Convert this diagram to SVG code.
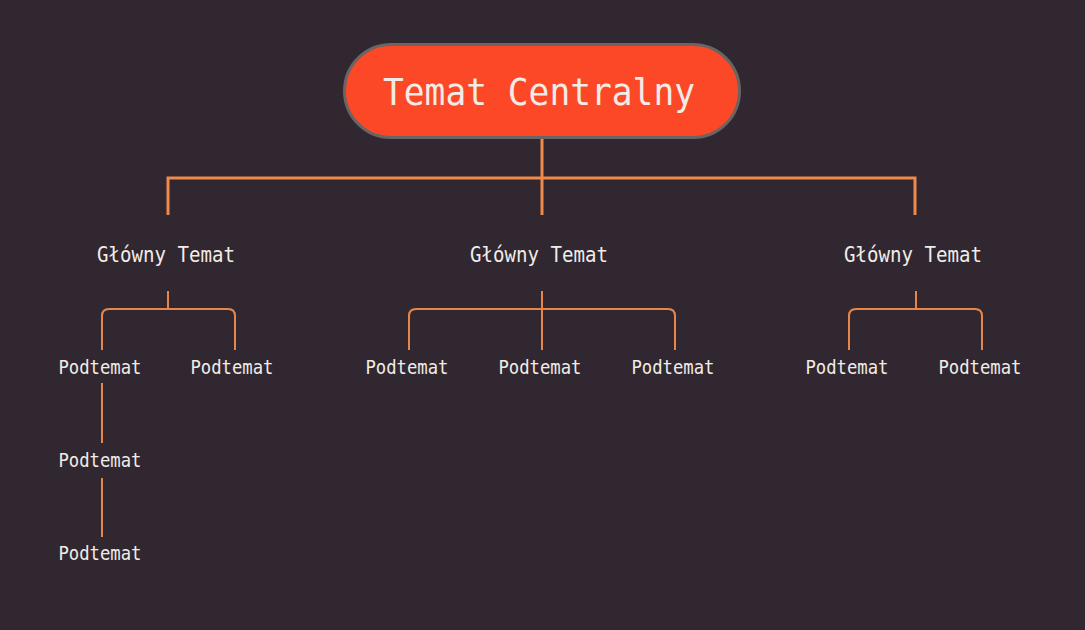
<svg xmlns="http://www.w3.org/2000/svg" width="1085" height="630" viewBox="0 0 1085 630">
<style>
.t{font-family:"DejaVu Sans Mono","Liberation Mono",monospace;fill:#F2ECE6;text-anchor:middle}
.main{font-size:21px}
.sub{font-size:19px}
.c1{fill:none;stroke:#EE8A4C;stroke-width:3}
.c2{fill:none;stroke:#E8864A;stroke-width:2}
</style>
<rect width="1085" height="630" fill="#302731"/>
<g id="connectors">
<path class="c1" d="M542 138V215M168 215V178H915V215"/>
<path class="c2" d="M168 291V309M102 350V316Q102 309 109 309H228Q235 309 235 316V350"/>
<path class="c2" d="M542 291V350M409 350V316Q409 309 416 309H668Q675 309 675 316V350"/>
<path class="c2" d="M916 291V309M849 350V316Q849 309 856 309H975Q982 309 982 316V350"/>
<path class="c2" d="M102 383V443M102 478V537"/>
</g>
<g id="center">
<rect x="344.5" y="44.5" width="395" height="93" rx="46.5" fill="#FC4826" stroke="#6A6464" stroke-width="3"/>
<text class="t" x="539" y="105" font-size="38" textLength="312" lengthAdjust="spacingAndGlyphs">Temat Centralny</text>
</g>
<g id="main1"><text class="t main" x="166" y="262" textLength="138" lengthAdjust="spacingAndGlyphs">Główny Temat</text></g>
<g id="main2"><text class="t main" x="539" y="262" textLength="138" lengthAdjust="spacingAndGlyphs">Główny Temat</text></g>
<g id="main3"><text class="t main" x="913" y="262" textLength="138" lengthAdjust="spacingAndGlyphs">Główny Temat</text></g>
<g id="sub1"><text class="t sub" x="100" y="374" textLength="83" lengthAdjust="spacingAndGlyphs">Podtemat</text></g>
<g id="sub2"><text class="t sub" x="232" y="374" textLength="83" lengthAdjust="spacingAndGlyphs">Podtemat</text></g>
<g id="sub3"><text class="t sub" x="100" y="467" textLength="83" lengthAdjust="spacingAndGlyphs">Podtemat</text></g>
<g id="sub4"><text class="t sub" x="100" y="560" textLength="83" lengthAdjust="spacingAndGlyphs">Podtemat</text></g>
<g id="sub5"><text class="t sub" x="407" y="374" textLength="83" lengthAdjust="spacingAndGlyphs">Podtemat</text></g>
<g id="sub6"><text class="t sub" x="540" y="374" textLength="83" lengthAdjust="spacingAndGlyphs">Podtemat</text></g>
<g id="sub7"><text class="t sub" x="673" y="374" textLength="83" lengthAdjust="spacingAndGlyphs">Podtemat</text></g>
<g id="sub8"><text class="t sub" x="847" y="374" textLength="83" lengthAdjust="spacingAndGlyphs">Podtemat</text></g>
<g id="sub9"><text class="t sub" x="980" y="374" textLength="83" lengthAdjust="spacingAndGlyphs">Podtemat</text></g>
</svg>
